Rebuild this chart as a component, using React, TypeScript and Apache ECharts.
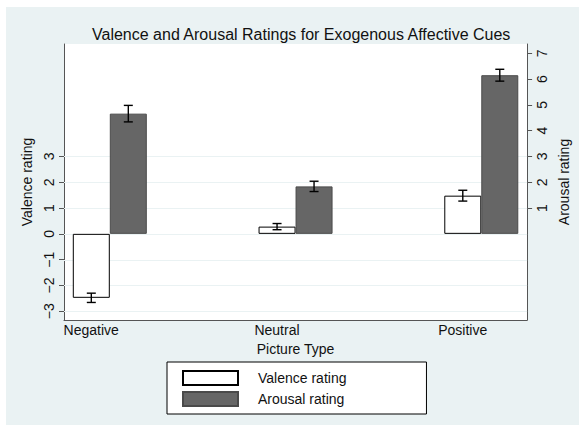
import React, { useEffect, useRef } from "react";
import * as echarts from "echarts";

const categories = ["Negative", "Neutral", "Positive"];
const valence = [-2.48, 0.28, 1.48];
const valenceErr = [0.18, 0.12, 0.21];
const arousal = [4.66, 1.84, 6.15];
const arousalErr = [0.32, 0.2, 0.23];
const valenceTicks = [-3, -2, -1, 0, 1, 2, 3];
const arousalTicks = [1, 2, 3, 4, 5, 6, 7];

const Y_MIN = -3.34;
const Y_MAX = 7.36;
const X_MIN = -0.2466;
const X_MAX = 2.2466;
const LABEL_SHIFT = 0.1;
const BAR_W = 37;
const BG = "#EAF2F3";
const FONT = "Liberation Sans, Arial, sans-serif";

export default function App() {
  const ref = useRef<HTMLDivElement>(null);
  useEffect(() => {
    if (!ref.current) return;
    const chart = echarts.init(ref.current, null, { renderer: "svg" });
    const labelPos = categories.map((_, i) => i - LABEL_SHIFT);

    const errSeries = (name: string, means: number[], errs: number[], yIdx: number, side: number) => ({
      type: "custom",
      name: name + " err",
      yAxisIndex: yIdx,
      z: 3,
      silent: true,
      data: means.map((m, i) => [i, m, errs[i]]),
      encode: { x: 0, y: 1 },
      renderItem: (params: any, api: any) => {
        const i = api.value(0);
        const m = api.value(1);
        const e = api.value(2);
        const top = api.coord([i, m + e]);
        const bot = api.coord([i, m - e]);
        const cx = top[0] + side * BAR_W / 2;
        const cap = 4.5;
        const st = { stroke: "#000", lineWidth: 1.4 };
        return {
          type: "group",
          children: [
            { type: "line", shape: { x1: cx, y1: top[1], x2: cx, y2: bot[1] }, style: st },
            { type: "line", shape: { x1: cx - cap, y1: top[1], x2: cx + cap, y2: top[1] }, style: st },
            { type: "line", shape: { x1: cx - cap, y1: bot[1], x2: cx + cap, y2: bot[1] }, style: st },
          ],
        };
      },
    });

    chart.setOption({
      animation: false,
      backgroundColor: "#ffffff",
      textStyle: { fontFamily: FONT },
      graphic: [
        {
          type: "rect",
          z: -10,
          silent: true,
          shape: { x: 6, y: 7, width: 573, height: 418 },
          style: { fill: BG },
        },
      ],
      title: {
        text: "Valence and Arousal Ratings for Exogenous Affective Cues",
        left: 87,
        top: 21,
        textStyle: { fontSize: 16, fontWeight: "normal", color: "#111", fontFamily: FONT },
      },
      legend: {
        orient: "vertical",
        left: 167,
        top: 362,
        padding: [8, 80, 7, 15],
        itemWidth: 55,
        itemHeight: 14,
        itemGap: 5,
        icon: "rect",
        backgroundColor: "#ffffff",
        borderColor: "#000",
        borderWidth: 1,
        data: ["Valence rating", "Arousal rating"],
        textStyle: { fontSize: 14, color: "#111", fontFamily: FONT, padding: [0, 0, 0, 15] },
      },
      grid: {
        left: 64,
        right: 49,
        top: 44,
        bottom: 105,
        show: true,
        backgroundColor: "#ffffff",
        borderWidth: 0,
      },
      xAxis: {
        type: "value",
        min: X_MIN,
        max: X_MAX,
        name: "Picture Type",
        nameLocation: "middle",
        nameGap: 20,
        nameTextStyle: { fontSize: 14, color: "#111", fontFamily: FONT },
        axisLine: { show: true, onZero: false, lineStyle: { color: "#555", width: 1 } },
        axisTick: { show: false },
        splitLine: { show: false },
        axisLabel: {
          customValues: labelPos,
          margin: 3,
          fontSize: 14,
          color: "#111",
          fontFamily: FONT,
          formatter: (v: number) => categories[Math.round(v + LABEL_SHIFT)] ?? "",
        },
      },
      yAxis: [
        {
          type: "value",
          position: "left",
          min: Y_MIN,
          max: Y_MAX,
          name: "Valence rating",
          nameLocation: "middle",
          nameGap: 28,
          nameTextStyle: { fontSize: 14, color: "#111", fontFamily: FONT },
          axisLine: { show: true, onZero: false, lineStyle: { color: "#555", width: 1 } },
          axisTick: { show: true, customValues: valenceTicks, length: 5, lineStyle: { color: "#555" } },
          splitLine: { show: false },
          axisLabel: {
            customValues: valenceTicks,
            rotate: 90,
            margin: 8,
            fontSize: 14,
            color: "#111",
            fontFamily: FONT,
            formatter: (v: number) => (v < 0 ? "\u2212" + Math.abs(v) : String(v)),
          },
        },
        {
          type: "value",
          position: "right",
          min: Y_MIN,
          max: Y_MAX,
          name: "Arousal rating",
          nameLocation: "middle",
          nameGap: 26,
          nameTextStyle: { fontSize: 14, color: "#111", fontFamily: FONT },
          axisLine: { show: true, onZero: false, lineStyle: { color: "#555", width: 1 } },
          axisTick: { show: true, customValues: arousalTicks, length: 5, lineStyle: { color: "#555" } },
          splitLine: { show: false },
          axisLabel: {
            customValues: arousalTicks,
            rotate: 90,
            margin: 8,
            fontSize: 14,
            color: "#111",
            fontFamily: FONT,
          },
        },
      ],
      series: [
        {
          type: "custom",
          name: "grid lines",
          yAxisIndex: 0,
          z: 1,
          silent: true,
          data: valenceTicks.map((v) => [0, v]),
          encode: { x: 0, y: 1 },
          renderItem: (params: any, api: any) => {
            const y = Math.round(api.coord([0, api.value(1)])[1]) + 0.5;
            const cs = params.coordSys;
            return {
              type: "line",
              shape: { x1: cs.x, y1: y, x2: cs.x + cs.width, y2: y },
              style: { stroke: BG, lineWidth: 1 },
            };
          },
        },
        {
          type: "bar",
          name: "Valence rating",
          yAxisIndex: 0,
          z: 2,
          barWidth: BAR_W,
          barGap: "0%",
          data: valence.map((v, i) => [i, v]),
          itemStyle: { color: "#ffffff", borderColor: "#000", borderWidth: 1 },
        },
        {
          type: "bar",
          name: "Arousal rating",
          yAxisIndex: 1,
          z: 2,
          barWidth: BAR_W,
          barGap: "0%",
          data: arousal.map((v, i) => [i, v]),
          itemStyle: { color: "#666666", borderColor: "#4a4a4a", borderWidth: 1 },
        },
        errSeries("Valence rating", valence, valenceErr, 0, -1),
        errSeries("Arousal rating", arousal, arousalErr, 1, 1),
      ],
    });
    return () => chart.dispose();
  }, []);
  return (
    <div
      ref={ref}
      style={{ position: "absolute", left: 0, top: 0, width: 579, height: 425 }}
    />
  );
}
